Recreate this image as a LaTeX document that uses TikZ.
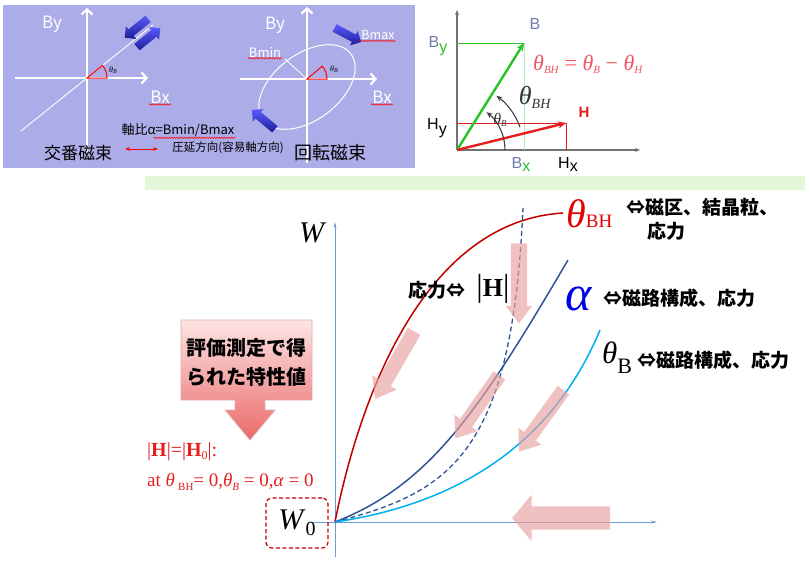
\documentclass[tikz,border=0pt]{standalone}
\usepackage{fontspec}
\setmainfont{Liberation Serif}
\setsansfont{Liberation Sans}
\newfontfamily\jpfont{Noto Sans CJK JP}
\usetikzlibrary{arrows.meta}
\usetikzlibrary{shapes.arrows}
\usetikzlibrary{decorations.pathmorphing}

\definecolor{lavender}{RGB}{172,172,232}
\definecolor{barblue}{RGB}{30,30,150}
\definecolor{vecgreen}{RGB}{40,195,40}
\definecolor{vecred}{RGB}{230,30,30}
\definecolor{vecgray}{RGB}{115,115,115}
\definecolor{bgray}{RGB}{110,125,170}
\definecolor{formred}{RGB}{240,85,95}
\definecolor{barlight}{RGB}{226,246,216}
\definecolor{axisblue}{RGB}{110,155,215}
\definecolor{curvered}{RGB}{192,0,0}
\definecolor{curveblue}{RGB}{47,85,151}
\definecolor{curvecyan}{RGB}{0,176,240}
\definecolor{labelred}{RGB}{230,0,0}
\definecolor{alphablue}{RGB}{0,0,230}
\definecolor{condred}{RGB}{230,30,30}
\definecolor{pinkfill}{RGB}{232,160,160}
\definecolor{evaltop}{RGB}{253,228,228}
\definecolor{evalbot}{RGB}{235,105,105}
\definecolor{evalline}{RGB}{225,175,175}

\newcommand\fsize[1]{\fontsize{#1}{#1}\selectfont}
\newcommand\lowtext[2]{\raisebox{-#1}{#2}}

\tikzset{
  whiteaxis/.style={white, line width=2.2pt, -{Straight Barb[length=5pt,width=11pt]}},
  fatblue/.style={single arrow, draw=none, inner sep=4pt, single arrow head extend=4pt,
    minimum height=30pt, top color=blue!65, bottom color=barblue},
  paneltext/.style={white, inner sep=1pt, font=\jpfont\fsize{17pt}},
  spellmark/.style={red, line width=0.5pt, decorate,
    decoration={snake, amplitude=0.7pt, segment length=2.5pt}},
  vecaxis/.style={vecgray, line width=1.3pt, -{Stealth[length=5pt,width=4pt]}},
  angarc/.style={black!75, line width=1.1pt, -{Stealth[length=6pt,width=5pt]}},
  curve/.style={line width=1.5pt},
  plotaxis/.style={axisblue, line width=0.8pt, -{Stealth[length=6pt,width=3pt]}},
  pinkarrow/.style={single arrow, draw=none, fill=pinkfill, fill opacity=0.65, inner sep=7pt,
    single arrow head extend=7pt, single arrow tip angle=74},
  jplabel/.style={inner sep=0pt, font=\jpfont\bfseries\fsize{19pt}},
}

\begin{document}
\begin{tikzpicture}[x=1pt, y=-1pt]
\useasboundingbox (0,0) rectangle (811,562);
\fill[white] (0,0) rectangle (811,562);

% alternating and rotating flux
\fill[lavender] (3,5) rectangle (415,168);

\coordinate (o1) at (87,78);
\draw[whiteaxis] (15,78) -- (148,78);
\draw[whiteaxis] (87,152) -- (87,8);
\draw[white, line width=0.9pt] (21,131) -- (153,25);
\draw[red, line width=1pt] (o1) -- ++(20,0) arc[start angle=0, end angle=-39, radius=20] -- cycle;
\node[font=\fsize{8pt}, inner sep=0pt] (thb1) at (113,70) {\textit{θ}\lowtext{1.5pt}{\fsize{6pt}\textit{B}}};
\node[fatblue, rotate=219] (fa1) at (138,27) {};
\node[fatblue, rotate=39] (fa2) at (147,39) {};
\node[paneltext] (by1) at (52,24) {By};
\node[paneltext] (bx1) at (160,97) {Bx};
\draw[spellmark] (bx1.south west) -- (bx1.south east);
\node[font=\jpfont\fsize{17pt}, inner sep=0pt] (alt) at (78,153) {交番磁束};

\node[font=\jpfont\fsize{13pt}, inner sep=1pt] (ratio) at (178,130) {軸比α=Bmin/Bmax};
\draw[spellmark] ([xshift=-82pt]ratio.south east) -- (ratio.south east);
\coordinate (rl) at (125,149);
\coordinate (rr) at (158,149);
\draw[red, line width=1pt, {Stealth[length=5pt]}-{Stealth[length=5pt]}] (rl) -- (rr);
\node[font=\jpfont\fsize{11.5pt}, inner sep=0pt] (roll) at (228,148) {圧延方向(容易軸方向)};

\coordinate (o2) at (307,79);
\draw[white, line width=1pt, rotate around={37:(307,87)}] (307,87) ellipse[x radius=55, y radius=33];
\draw[whiteaxis] (240,79) -- (377,79);
\draw[whiteaxis] (307,163) -- (307,7);
\coordinate (bminpt) at (285,59);
\draw[white, line width=0.8pt] (o2) -- (bminpt);
\draw[red, line width=1pt] (o2) -- ++(20,0) arc[start angle=0, end angle=-40, radius=20] -- cycle;
\node[font=\fsize{8pt}, inner sep=0pt] (thb2) at (334,69) {\textit{θ}\lowtext{1.5pt}{\fsize{6pt}\textit{B}}};
\node[fatblue, rotate=-28] (fa3) at (346,34) {};
\node[fatblue, rotate=140] (fa4) at (265,121) {};
\node[paneltext] (by2) at (275,25) {By};
\node[paneltext] (bx2) at (382,97) {Bx};
\node[paneltext, font=\jpfont\fsize{12.5pt}] (bmax) at (378,35) {Bmax};
\node[paneltext, font=\jpfont\fsize{13pt}] (bmin) at (265,52) {Bmin};
\draw[spellmark] (bx2.south west) -- (bx2.south east);
\draw[spellmark] (bmax.south west) -- (bmax.south east);
\draw[spellmark] (bmin.south west) -- (bmin.south east);
\node[font=\jpfont\fsize{18pt}, inner sep=0pt] (rot) at (330,153) {回転磁束};

% B and H vectors
\coordinate (o3) at (457,150);
\coordinate (bt) at (524,43);
\coordinate (ht) at (566,123);
\draw[vecaxis] (o3) -- (640,150);
\draw[vecaxis] (o3) -- (457,10);
\draw[vecgreen, line width=0.7pt] (457,43) -- (bt);
\draw[vecgreen!35, line width=0.7pt] (bt) -- (524,150);
\draw[vecred, line width=0.7pt] (457,123) -- (ht) -- (566,150);
\draw[vecgreen, line width=2.4pt, -{Stealth[length=8pt,width=7pt]}] (o3) -- (bt);
\draw[vecred, line width=2.4pt, -{Stealth[length=8pt,width=7pt]}] (o3) -- (ht);
\draw[angarc] (o3) ++(-20:67) arc[start angle=-20, end angle=-54, radius=67];
\draw[angarc] (o3) ++(0:48) arc[start angle=0, end angle=-52, radius=48];
\node[font=\sffamily\fsize{16pt}, bgray, inner sep=0pt] (blab) at (535,24) {B};
\node[font=\sffamily\fsize{16pt}, bgray, inner sep=0pt] (bylab) at (438,46) {B\lowtext{5pt}{\color{vecgreen}y}};
\node[font=\sffamily\fsize{16pt}, bgray, inner sep=0pt] (bxlab) at (521,164) {B\lowtext{3pt}{\color{vecgreen}x}};
\node[font=\sffamily\fsize{16pt}, inner sep=0pt] (hylab) at (437,128) {H\lowtext{5pt}{y}};
\node[font=\sffamily\fsize{16pt}, inner sep=0pt] (hxlab) at (568,164) {H\lowtext{3pt}{x}};
\node[font=\sffamily\bfseries\fsize{15pt}, vecred, inner sep=0pt] (hlab) at (584,112) {H};
\node[formred, font=\fsize{22pt}, anchor=west, inner sep=0pt] (form) at (533,64)
  {\textit{θ}\lowtext{3pt}{\fsize{11pt}\textit{BH}} = \textit{θ}\lowtext{3pt}{\fsize{11pt}\textit{B}} − \textit{θ}\lowtext{3pt}{\fsize{11pt}\textit{H}}};
\node[font=\fsize{26pt}, black!80, inner sep=0pt] (thbh2) at (535,97) {\textit{θ}\lowtext{4pt}{\fsize{14pt}\textit{BH}}};
\node[font=\fsize{16pt}, black!80, inner sep=0pt] (thb3) at (500,120) {\textit{θ}\lowtext{2pt}{\fsize{9pt}\textit{B}}};

\fill[barlight] (145,176) rectangle (805,190);

% W curves
\coordinate (o) at (335,522);
\coordinate (redend) at (563,213);
\coordinate (blueend) at (568,260);
\coordinate (dashend) at (523,208);
\coordinate (cyanend) at (600,330);
\draw[plotaxis] (335,557) -- (335,222);
\draw[plotaxis] (310,522) -- (657,522);
\node[font=\fsize{30pt}, anchor=base west, inner sep=0pt] (wlab) at (299,242) {\textit{W}};

\draw[curvered, curve] (o) .. controls (355,420) and (415,222) .. (redend);
\draw[curveblue, curve] (o) .. controls (430,485) and (480,410) .. (blueend);
\draw[curveblue, line width=1.3pt, dash pattern=on 5pt off 3pt] (o) .. controls (450,492) and (512,455) .. (dashend);
\draw[curvecyan, curve] (o) .. controls (450,505) and (550,450) .. (cyanend);

\node[pinkarrow, minimum height=80pt, inner sep=8pt, single arrow head extend=5pt, rotate=-90] (pk1) at (519,278) {};
\node[pinkarrow, minimum height=78pt, rotate=240] (pk2) at (397,361) {};
\node[pinkarrow, minimum height=77pt, rotate=235] (pk3) at (480,403) {};
\node[pinkarrow, minimum height=76pt, rotate=234] (pk4) at (544,417) {};
\node[pinkarrow, minimum height=98pt, inner sep=11.5pt, single arrow head extend=11.5pt,
  single arrow tip angle=100, rotate=180] (pk5) at (566,518) {};

\node[labelred, font=\fsize{40pt}, anchor=base west, inner sep=0pt] (thbhlab) at (566,227) {\textit{θ}{\fsize{19pt}BH}};
\node[jplabel, anchor=west] (domain) at (626,207) {⇔磁区、結晶粒、};
\node[jplabel] (stress1) at (666,231) {応力};
\node[jplabel] (stress2) at (437,290) {応力⇔};
\node[font=\fsize{26pt}, inner sep=0pt] (hnorm) at (493,289) {{\fsize{32pt}|}\textbf{H}{\fsize{32pt}|}};
\node[alphablue, font=\fsize{50pt}, anchor=base west, inner sep=0pt] (alab) at (565,310) {\textit{α}};
\node[jplabel, anchor=west] (path1) at (603,298) {⇔磁路構成、応力};
\node[font=\fsize{31pt}, anchor=base west, inner sep=0pt] (tblab) at (602,363) {\textit{θ}\lowtext{10pt}{\fsize{22pt}B}};
\node[jplabel, anchor=west] (path2) at (637,360) {⇔磁路構成、応力};

% measured values
\shadedraw[top color=evaltop, bottom color=evalbot, draw=evalline, line width=0.8pt]
  (181,320) -- (312,320) -- (312,400) -- (265,400) -- (265,410) -- (275,410) -- (250,440)
  -- (225,410) -- (235,410) -- (235,400) -- (181,400) -- cycle;
\node[inner sep=0pt, align=center, font=\jpfont\bfseries\fontsize{20pt}{29pt}\selectfont] (evaltext) at (246,362) {評価測定で得\\られた特性値};
\node[condred, font=\fsize{20pt}, anchor=west, inner sep=0pt] (hcond) at (147,452)
  {|\textbf{H}|=|\textbf{H}\lowtext{3pt}{\fsize{12pt}0}|:};
\node[condred, font=\fsize{19pt}, anchor=west, inner sep=0pt] (atcond) at (147,482)
  {at \textit{θ}\,\lowtext{4pt}{\fsize{11pt}BH}= 0,\textit{θ}\lowtext{4pt}{\fsize{11pt}\textit{B}} = 0,\textit{α} = 0};
\node[draw=curvered, line width=1.2pt, dash pattern=on 4pt off 2.5pt, rounded corners=6pt,
  minimum width=62pt, minimum height=50pt, inner sep=0pt, font=\fsize{30pt}] (w0) at (297,523)
  {\textit{W}\lowtext{6pt}{\fsize{20pt}0}};
\end{tikzpicture}
\end{document}
